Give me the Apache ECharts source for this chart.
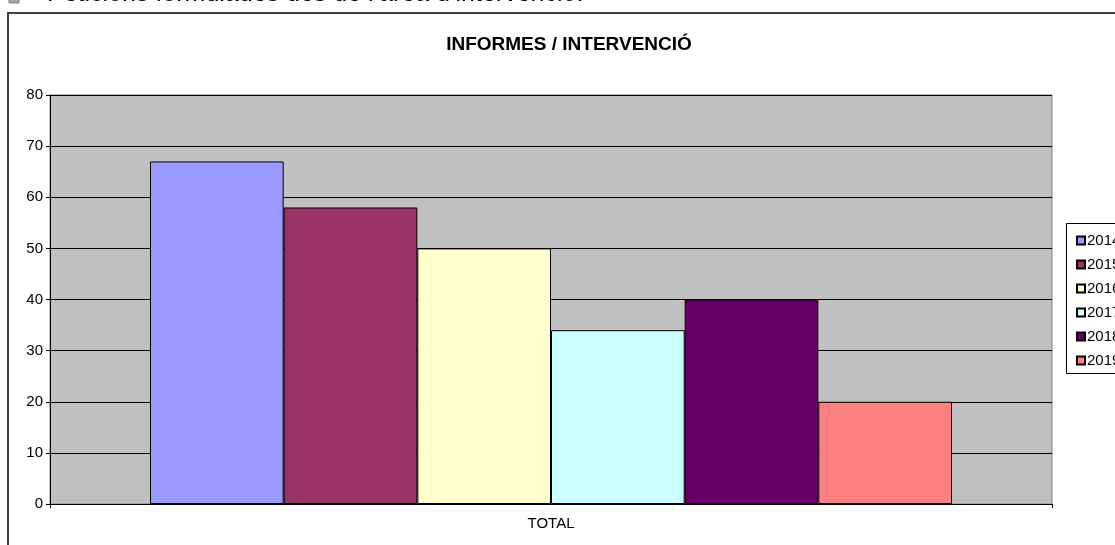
<!DOCTYPE html>
<html>
<head>
<meta charset="utf-8">
<script src="https://cdn.jsdelivr.net/npm/echarts@6/dist/echarts.min.js"></script>
<style>
html,body{margin:0;padding:0;background:#fff;}
#chart{width:1115px;height:545px;}
</style>
</head>
<body>
<div id="chart"></div>
<script>
var categories = ['TOTAL'];
var years = ['2014', '2015', '2016', '2017', '2018', '2019'];
var values2014 = [67];
var values2015 = [58];
var values2016 = [50];
var values2017 = [34];
var values2018 = [40];
var values2019 = [20];
var yTicks = [0, 10, 20, 30, 40, 50, 60, 70, 80];
var colors = ['#9999FF', '#993366', '#FFFFCC', '#CCFFFF', '#660066', '#FF8080'];
var seriesValues = [values2014, values2015, values2016, values2017, values2018, values2019];

var font = '"Liberation Sans", Arial, sans-serif';
var chart = echarts.init(document.getElementById('chart'), null, {renderer: 'canvas'});

var series = years.map(function (y, i) {
  return {
    name: y,
    type: 'bar',
    data: seriesValues[i],
    barGap: '0%',
    barCategoryGap: '19.96%',
    itemStyle: {color: colors[i], borderColor: '#000', borderWidth: 1},
    emphasis: {disabled: true},
    animation: false
  };
});

chart.setOption({
  animation: false,
  textStyle: {fontFamily: font},
  grid: {left: 50, right: 63, top: 95, bottom: 41, show: true, backgroundColor: '#C0C0C0', borderColor: '#808080', borderWidth: 1},
  legend: {
    orient: 'vertical',
    left: 1071,
    top: 228,
    itemWidth: 8,
    itemHeight: 8,
    itemGap: 9,
    icon: 'rect',
    z: 10,
    selectedMode: false,
    textStyle: {fontSize: 15, color: '#000', fontFamily: font, padding: [0, 0, 0, -3]},
    data: years
  },
  xAxis: {
    type: 'category',
    data: categories,
    axisLine: {lineStyle: {color: '#000', width: 1}},
    axisTick: {show: true, length: 4, lineStyle: {color: '#000'}},
    axisLabel: {fontSize: 15, color: '#000', margin: 12, fontFamily: font}
  },
  yAxis: {
    type: 'value',
    min: yTicks[0],
    max: yTicks[yTicks.length - 1],
    interval: 10,
    axisLine: {show: true, lineStyle: {color: '#000', width: 1}},
    axisTick: {show: true, length: 4, lineStyle: {color: '#000'}},
    axisLabel: {fontSize: 15, color: '#000', margin: 7, fontFamily: font},
    splitLine: {show: true, lineStyle: {color: '#000', width: 1}}
  },
  graphic: [
    {
      type: 'rect', z: -10, silent: true,
      shape: {x: 8, y: 13, width: 1200, height: 700},
      style: {fill: '#fff', stroke: '#404040', lineWidth: 2}
    },
    {
      type: 'rect', z: 5, silent: true,
      shape: {x: 1066.5, y: 223.5, width: 100, height: 150},
      style: {fill: '#fff', stroke: '#000', lineWidth: 1}
    },
    {
      type: 'text', silent: true,
      style: {x: 569, y: 45, text: 'INFORMES / INTERVENCIÓ', align: 'center', verticalAlign: 'middle',
        font: 'bold 19px "Liberation Sans", Arial, sans-serif', fill: '#000'}
    },
    {
      type: 'rect', silent: true,
      shape: {x: 9, y: -8, width: 10, height: 11},
      style: {fill: '#A8A0B8', stroke: '#808080', lineWidth: 1}
    },
    {
      type: 'text', silent: true,
      style: {x: 47, y: 7, text: 'Peticions formulades des de l\u2019àrea d\u2019intervenció:', align: 'left', verticalAlign: 'bottom',
        font: '25px "Liberation Sans", Arial, sans-serif', fill: '#000'}
    }
  ],
  series: series
});
</script>
</body>
</html>
